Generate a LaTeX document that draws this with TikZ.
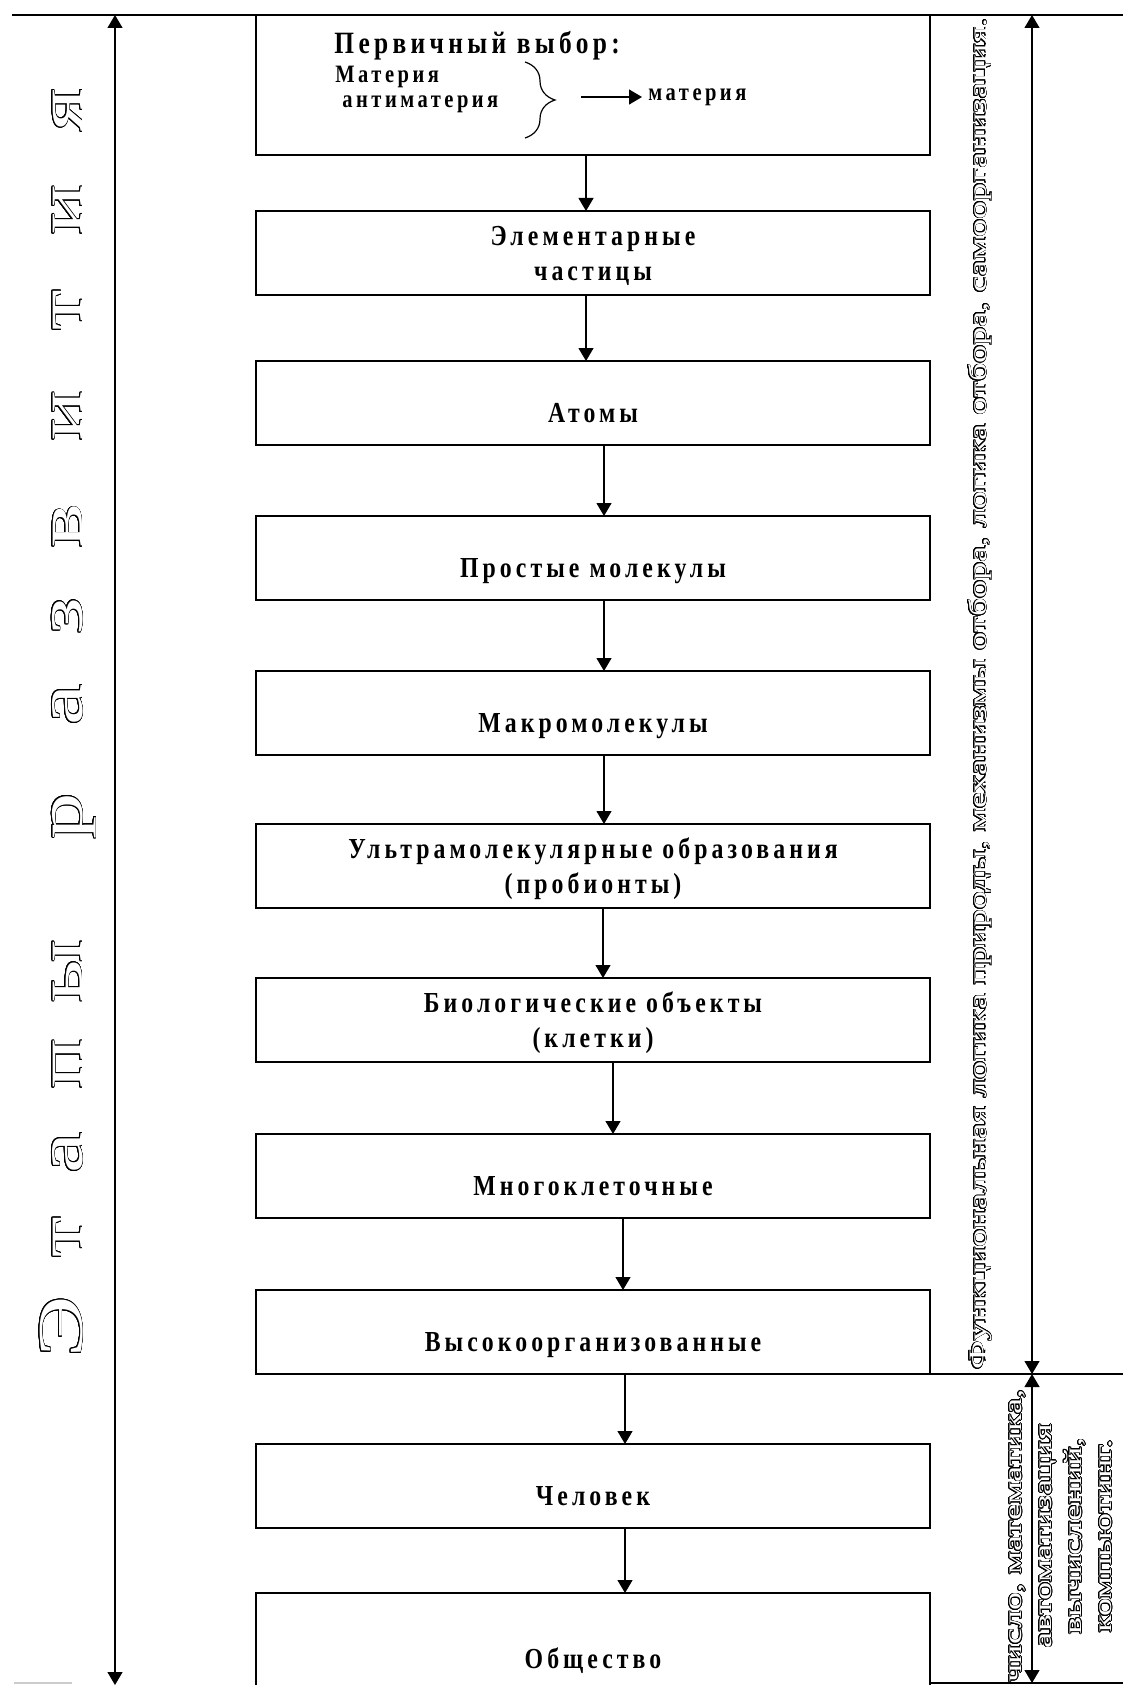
\documentclass[tikz,border=0pt]{standalone}
\usepackage{fontspec}
\usepackage[copies]{contour}
\usetikzlibrary{positioning,arrows.meta,decorations.pathreplacing}

\newfontfamily\boxfont[FakeStretch=0.82,LetterSpace=14]{Liberation Serif}
\newfontfamily\wideserif[FakeStretch=1.45]{Liberation Serif}
\contournumber{24}
\newcommand{\hollow}[2][0.34pt]{{\contourlength{#1}\color{white}\contour{black}{#2}}}

\tikzset{
  box/.style={draw,line width=1pt,outer sep=0pt,minimum width=337pt,minimum height=42pt,
    inner sep=2pt,align=center,font=\boxfont\bfseries\fontsize{14.5}{17.5}\selectfont},
  low/.style={text height=22pt,text depth=3pt},
  two/.style={text depth=0pt},
  arr/.style={line width=0.6pt,-{Triangle[length=6.5pt,width=7.5pt]}},
  darr/.style={line width=0.6pt,{Triangle[length=6.5pt,width=7.5pt]}-{Triangle[length=6.5pt,width=7.5pt]}},
  inbox/.style={anchor=west,inner sep=0pt,font=\boxfont\bfseries\fontsize{12.5}{14}\selectfont},
  side/.style={rotate=90,inner sep=0pt,font=\wideserif\fontsize{12.5}{15}\selectfont},
}

\begin{document}
\begin{tikzpicture}[x=0.5pt,y=-0.5pt]
\useasboundingbox (0,0) rectangle (1123,1685);

% Boxes
\node[box,line width=1.2pt,minimum height=70pt] (b1) at (593,85) {};
\node[box,two,below=28pt of b1] (b2) {Элементарные\\частицы};
\node[box,low,below=33pt of b2] (b3) {Атомы};
\node[box,low,below=35.5pt of b3] (b4) {Простые молекулы};
\node[box,low,below=35.5pt of b4] (b5) {Макромолекулы};
\node[box,two,below=34.5pt of b5] (b6) {Ультрамолекулярные образования\\(пробионты)};
\node[box,two,below=35pt of b6] (b7) {Биологические объекты\\(клетки)};
\node[box,low,below=36pt of b7] (b8) {Многоклеточные};
\node[box,low,below=36pt of b8] (b9) {Высокоорганизованные};
\node[box,low,below=35pt of b9] (b10) {Человек};
\node[box,text height=20pt,text depth=3pt,minimum height=58pt,below=32.5pt of b10] (b11) {Общество};

% First box: primary choice
\node[inbox,font=\boxfont\bfseries\fontsize{15.5}{17}\selectfont] (hdr) at (334,46) {Первичный выбор:};
\node[inbox] (mat) at (335,77) {Материя};
\node[inbox] (anti) at (342,104) {антиматерия};
\draw[line width=0.6pt,decorate,decoration={brace,amplitude=15pt}] (525,62) -- (525,138);
\coordinate (a0) at (581,97);
\node[inbox] (res) at (648,97) {материя};
\draw[arr,shorten >=3pt] (a0) -- (res.west);

% Chain arrows
\foreach \a/\b/\d in {b1/b2/-3.5,b2/b3/-3.5,b3/b4/5.5,b4/b5/5.5,b5/b6/5.5,
                      b6/b7/5,b7/b8/10,b8/b9/15,b9/b10/16,b10/b11/16}
  \draw[arr] ([xshift=\d pt]\a.south) -- ([xshift=\d pt]\b.north);

% Frame lines
\coordinate (tl) at (12,15);
\coordinate (tr) at (1123,15);
\draw[line width=0.6pt] (tl) -- (tr);
\coordinate (la) at (115,15);
\coordinate (lb) at (115,1685);
\draw[darr] (la) -- (lb);
\coordinate (ra) at (1032,15);
\coordinate (rm) at (1032,1374);
\coordinate (rb) at (1032,1683);
\draw[darr] (ra) -- (rm);
\draw[darr] (rm) -- (rb);
\draw[line width=0.6pt] (b9.south east) -- (b9.south east -| tr);
\coordinate (bl) at (930,1683);
\draw[line width=0.6pt] (bl) -- (bl -| tr);
\draw[gray!40,line width=1pt] (14,1683) -- (72,1683);

% Stages (left), read upwards
\foreach \ch/\y [count=\k] in {Э/1327,т/1237,а/1153,п/1064,ы/971,р/816,а/705,
                               з/616,в/526,и/416,т/310,и/210,я/110}
  \node[rotate=90,anchor=base,inner sep=0pt,font=\wideserif\fontsize{32}{32}\selectfont]
    (st\k) at (82,\y) {\hollow[0.45pt]{\ch}};

% Right texts
\node[side,anchor=base] (func) at (986,694)
  {\hollow{Функциональная логика природы, механизмы отбора, логика отбора, самоорганизация.}};
\node[side,align=center] (comp) at (1061,1536)
  {\hollow{число, математика,}\\\hollow{автоматизация}\\\hollow{вычислений,}\\\hollow{компьютинг.}};

\end{tikzpicture}
\end{document}
